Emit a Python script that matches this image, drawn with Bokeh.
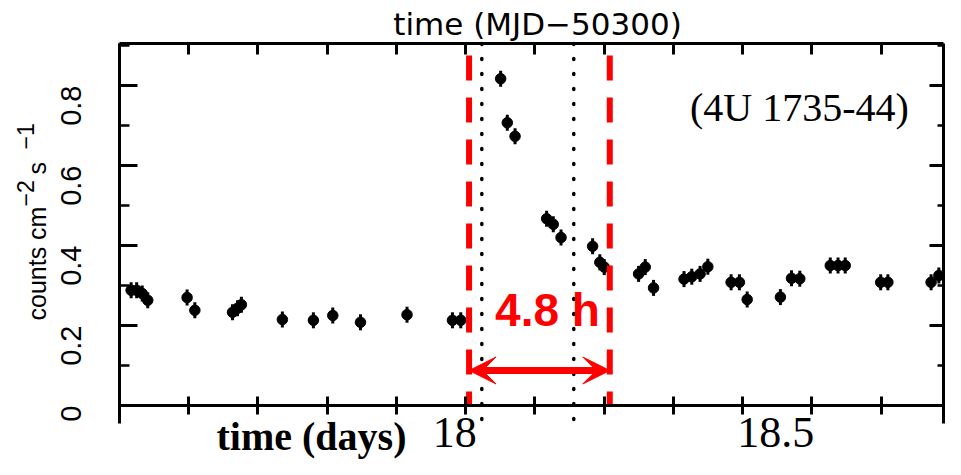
import math
from bokeh.plotting import figure
from bokeh.models import (Range1d, LinearAxis, FixedTicker, Label, Arrow,
                          VeeHead, ColumnDataSource)
from bokeh.embed import file_html
from bokeh.resources import INLINE

# ---------------- data ----------------
t_days = [17.396, 17.406, 17.416, 17.426, 17.497, 17.511, 17.579, 17.588, 17.595,
          17.669, 17.725, 17.760, 17.810, 17.894, 17.976, 17.991,
          18.063, 18.075, 18.089, 18.146, 18.158, 18.172, 18.229, 18.242, 18.250,
          18.312, 18.324, 18.339, 18.394, 18.408, 18.423, 18.437,
          18.479, 18.494, 18.508, 18.568, 18.588, 18.603,
          18.658, 18.672, 18.685, 18.749, 18.762, 18.840, 18.854]
counts = [0.288, 0.288, 0.280, 0.263, 0.270, 0.238, 0.233, 0.243, 0.252,
          0.215, 0.213, 0.225, 0.208, 0.227, 0.213, 0.213,
          0.817, 0.707, 0.673, 0.467, 0.453, 0.420, 0.398, 0.358, 0.346,
          0.329, 0.346, 0.294, 0.316, 0.322, 0.329, 0.347,
          0.308, 0.308, 0.265, 0.271, 0.318, 0.317,
          0.350, 0.350, 0.350, 0.308, 0.308, 0.308, 0.325]
count_err = [0.02] * len(counts)

x_ticks = [17.375, 17.5, 17.625, 17.75, 17.875, 18.0, 18.125, 18.25, 18.375,
           18.5, 18.625, 18.75]
y_ticks = [0, 0.2, 0.4, 0.6, 0.8]
y_minor = [0.1, 0.3, 0.5, 0.7, 0.9]
y_tick_labels = {0: "0", 0.2: "0.2", 0.4: "0.4", 0.6: "0.6", 0.8: "0.8"}
x_label_values = [18.0, 18.5]
x_label_texts = ["18", "18.5"]

window_start, window_end = 18.006, 18.260      # red dashed
burst_start, burst_end = 18.029, 18.195        # black dotted
window_text = "4.8 h"
source_name = "(4U 1735-44)"
top_title = "time  (MJD\u221250300)"
bottom_title = "time (days)"

# plot box (data coordinates)
box_x0, box_x1 = 17.375, 18.862
box_y0, box_y1 = -0.045, 0.905

PX_Y = 400.0   # pixels per count unit
PX_X = 554.0   # pixels per day


def lift(fs):
    """vertical correction (data units) of a label's alphabetic baseline"""
    return 0.37 * fs / PX_Y


# ---------------- figure ----------------
p = figure(width=945, height=459, output_backend="svg", toolbar_location=None,
           x_range=Range1d(17.1602, 18.8660), y_range=Range1d(-0.135, 1.0125),
           min_border=0, min_border_left=0, min_border_right=0,
           min_border_top=0, min_border_bottom=0)
p.outline_line_color = None
p.grid.visible = False
p.background_fill_color = "white"

# bottom axis at y = 0
xa = p.xaxis[0]
xa.fixed_location = 0
xa.bounds = (box_x0, box_x1)
xa.ticker = FixedTicker(ticks=x_ticks, minor_ticks=[])
xa.major_label_text_color = None
xa.major_tick_in = 9
xa.major_tick_out = 9
xa.axis_line_width = 3
xa.major_tick_line_width = 3

# left axis
ya = p.yaxis[0]
ya.fixed_location = box_x0
ya.bounds = (box_y0, box_y1)
ya.ticker = FixedTicker(ticks=y_ticks, minor_ticks=y_minor)
ya.major_label_overrides = y_tick_labels
ya.major_label_orientation = math.pi / 2
ya.major_label_text_font = "Liberation Sans"
ya.major_label_text_font_size = "29px"
ya.major_label_text_color = "black"
ya.major_label_standoff = 48
ya.major_tick_in = 18
ya.major_tick_out = 0
ya.minor_tick_in = 10
ya.minor_tick_out = 0
ya.axis_line_width = 3
ya.major_tick_line_width = 3
ya.minor_tick_line_width = 2.5

# top axis
top = LinearAxis(ticker=FixedTicker(ticks=x_ticks, minor_ticks=[]),
                 fixed_location=box_y1, bounds=(box_x0, box_x1),
                 major_label_text_color=None, major_label_standoff=0,
                 major_tick_in=11, major_tick_out=0, axis_line_width=3,
                 major_tick_line_width=3)
p.add_layout(top, "above")

# right axis
right = LinearAxis(ticker=FixedTicker(ticks=y_ticks, minor_ticks=y_minor),
                   fixed_location=box_x1, bounds=(box_y0, box_y1),
                   major_label_text_color=None, major_label_standoff=0,
                   major_tick_in=14, major_tick_out=0, minor_tick_in=6,
                   minor_tick_out=0, axis_line_width=3, major_tick_line_width=3,
                   minor_tick_line_width=2.5)
p.add_layout(right, "right")

# data
src = ColumnDataSource(dict(t=t_days, c=counts,
                            lo=[c - e for c, e in zip(counts, count_err)],
                            hi=[c + e for c, e in zip(counts, count_err)]))
p.segment(x0="t", y0="lo", x1="t", y1="hi", source=src, line_color="black",
          line_width=3)
p.scatter("t", "c", source=src, size=10.5, color="black")

# dotted burst lines
p.segment(x0=[burst_start, burst_end], y0=[box_y1, box_y1],
          x1=[burst_start, burst_end], y1=[box_y0, box_y0], line_color="black",
          line_width=3.5, line_dash="1 14", line_cap="round")

# red dashed window lines
dash_top = 0.875
p.segment(x0=[window_start, window_end], y0=[dash_top, dash_top],
          x1=[window_start, window_end], y1=[0, 0], line_color="red",
          line_width=6, line_dash="25 17")

# arrow
arrow_y = 0.0875
p.add_layout(Arrow(x_start=window_start, y_start=arrow_y, x_end=window_end,
                   y_end=arrow_y, line_color="red", line_width=7,
                   start=VeeHead(size=27, fill_color="red", line_color="red"),
                   end=VeeHead(size=27, fill_color="red", line_color="red")))


def add_label(text, x, y, fs, font, style="normal", color="black",
              align="center", x_offset=0):
    p.add_layout(Label(x=x, y=y + lift(fs), x_offset=x_offset, text=text,
                       text_align=align, text_baseline="alphabetic",
                       text_font=font, text_font_style=style,
                       text_font_size=f"{fs}px", text_color=color))


add_label(window_text, 18.1476, 0.195, 46, "Liberation Sans", "bold", "red")
add_label(source_name, 18.6024, 0.7075, 40, "Liberation Serif")
add_label(top_title, 18.1385, 0.925, 31, "DejaVu Sans")
add_label(bottom_title, 17.7216, -0.1150, 40, "Liberation Serif", "bold")
for xv, txt, off in zip(x_label_values, x_label_texts, (-11, 33)):
    add_label(txt, xv, -0.1075, 44, "Liberation Serif", x_offset=off)

# y axis label (with superscripts), rotated to read bottom-to-top
ylab_parts = [("counts cm", 46, 0.2125, 25),
              ("\u22122", 34, 0.4975, 23),
              ("s", 46, 0.5775, 25),
              ("\u22121", 34, 0.6400, 23)]
for txt, px, yv, fs in ylab_parts:
    xv = 17.1602 + (px - 0.37 * fs) / PX_X
    p.add_layout(Label(x=xv, y=yv, text=txt, angle=math.pi / 2,
                       text_align="left", text_baseline="alphabetic",
                       text_font="Liberation Sans", text_font_size=f"{fs}px",
                       text_color="black"))

open("out.html", "w").write(file_html(p, INLINE))
